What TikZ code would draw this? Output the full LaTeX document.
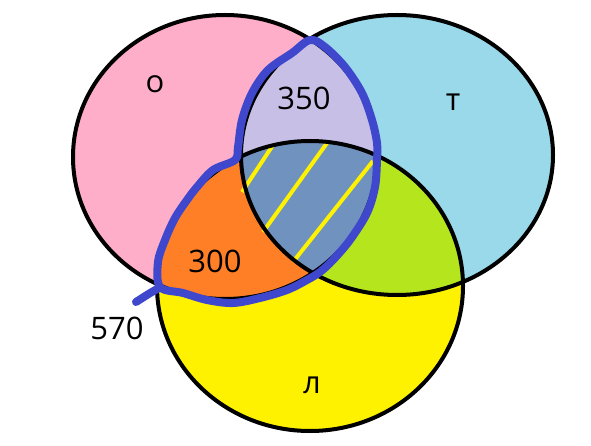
\documentclass[tikz,border=0pt]{standalone}
\usepackage{fontspec}
\setmainfont{Open Sans}
\usepackage{xcolor}
\usepackage{tikz}

\definecolor{vpink}{HTML}{FFAEC9}
\definecolor{vblue}{HTML}{99D9EA}
\definecolor{vyellow}{HTML}{FFF200}
\definecolor{vlilac}{HTML}{C8BFE7}
\definecolor{vorange}{HTML}{FF7F27}
\definecolor{vlime}{HTML}{B5E61D}
\definecolor{vsteel}{HTML}{7092BE}
\definecolor{vmarker}{HTML}{3F48CC}

\def\setO{(225,157) ellipse [x radius=152pt, y radius=142pt]}
\def\setT{(397,155) ellipse [x radius=156pt, y radius=140pt]}
\def\setL{(310,286) ellipse [x radius=153pt, y radius=145pt]}

\begin{document}
\begin{tikzpicture}[x=1pt, y=-1pt,
        outline/.style={draw=black, line width=4pt},
        marker/.style={draw=vmarker, line width=8pt, line cap=round, line join=round},
        stripe/.style={draw=vyellow, line width=4pt},
        lbl/.style={font=\fontsize{31}{36}\selectfont, inner sep=0pt}]
      \useasboundingbox (0,0) rectangle (591,446);
      % single sets
      \fill[vpink] \setO;
      \fill[vblue] \setT;
      \fill[vyellow] \setL;
      % pairwise overlaps
      \begin{scope}
        \clip \setO;
        \fill[vlilac] \setT;
        \fill[vorange] \setL;
      \end{scope}
      \begin{scope}
        \clip \setT;
        \fill[vlime] \setL;
      \end{scope}
      % all three
      \begin{scope}
        \clip \setO;
        \clip \setT;
        \fill[vsteel] \setL;
      \end{scope}
      \draw[stripe] (273,145) -- (242,192);
      \draw[stripe] (327,143) -- (263,232);
      \draw[stripe] (373,161) -- (293,262);
      \draw[outline] \setO;
      \draw[outline] \setT;
      \draw[outline] \setL;
      % hand-drawn border
      \draw[marker] plot[smooth cycle, tension=0.55] coordinates {
        (310,40) (325,47) (345,67) (362,93) (372,120) (377,143)
        (377,160) (375,187) (367,213) (350,240) (333,260) (320,272)
        (307,280) (287,290) (260,298) (233,303) (207,300) (183,293)
        (160,287) (158,262) (165,240) (175,218) (187,200) (197,187)
        (213,170) (235,160) (238,147) (242,120) (252,93) (268,70)
        (292,53)};
      \coordinate (tailA) at (159,288);
      \coordinate (tailB) at (136,302);
      \draw[marker] (tailA) .. controls (150,293) .. (tailB);
      \node[lbl] (lblO) at (155,84) {о};
      \node[lbl] (lblT) at (453,102) {т};
      \node[lbl] (lblL) at (312,385) {л};
      \node[lbl] (n350) at (304,98) {350};
      \node[lbl] (n300) at (215,261) {300};
      \node[lbl] (n570) at (117,328) {570};
    \end{tikzpicture}
\end{document}
